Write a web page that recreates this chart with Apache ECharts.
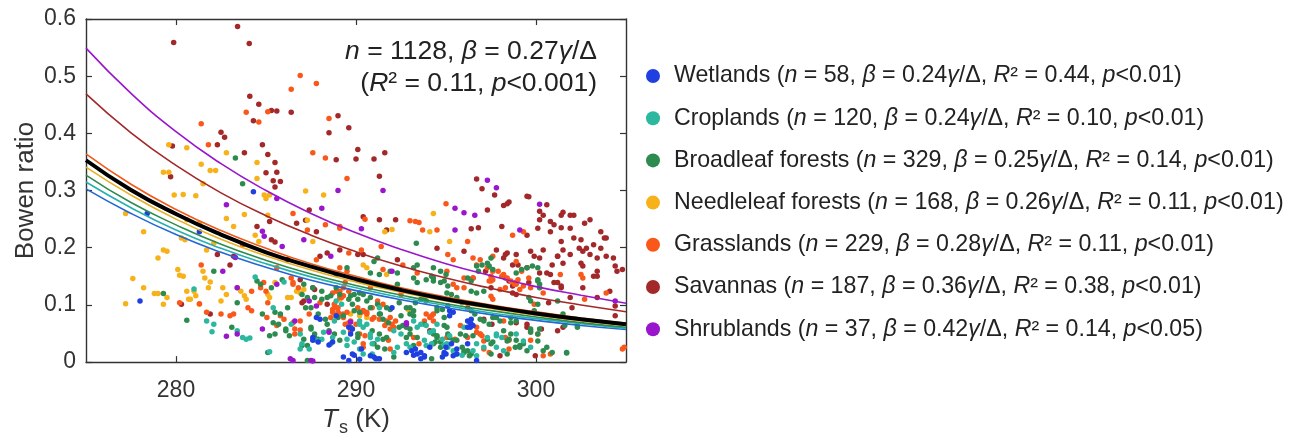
<!DOCTYPE html>
<html>
<head>
<meta charset="utf-8">
<script src="https://cdn.jsdelivr.net/npm/echarts@6/dist/echarts.min.js"></script>
<style>html,body{margin:0;padding:0;background:#fff}#c{width:1299px;height:442px}</style>
</head>
<body>
<div id="c"></div>
<script>
// ---------- data ----------
const landTypes = ['Wetlands','Croplands','Broadleaf forests','Needleleaf forests','Grasslands','Savannas','Shrublands'];
const nCounts = [58,120,329,168,229,187,37];
const betaCoefs = ['0.24','0.24','0.25','0.26','0.28','0.36','0.42'];
const r2Vals = ['0.44','0.10','0.14','0.11','0.11','0.38','0.14'];
const pVals = ['0.01','0.01','0.01','0.01','0.01','0.01','0.05'];
const xTicks = [280,290,300];
const yTicks = [0,0.1,0.2,0.3,0.4,0.5,0.6];

// fitted curves at these Ts values
const curveT = [275,277.5,280,282.5,285,287.5,290,292.5,295,297.5,300,302.5,305];
const curveWetlands   = [0.303,0.260,0.223,0.192,0.166,0.143,0.125,0.109,0.095,0.083,0.073,0.064,0.057];
const curveCroplands  = [0.315,0.270,0.231,0.199,0.172,0.149,0.130,0.113,0.099,0.086,0.076,0.067,0.059];
const curveBroadleaf  = [0.327,0.279,0.240,0.206,0.178,0.154,0.134,0.117,0.102,0.090,0.079,0.069,0.061];
const curveNeedleleaf = [0.341,0.292,0.250,0.215,0.186,0.161,0.140,0.122,0.107,0.094,0.082,0.072,0.064];
const curveGrasslands = [0.364,0.311,0.267,0.230,0.199,0.172,0.150,0.130,0.114,0.100,0.088,0.077,0.068];
const curveSavannas   = [0.469,0.401,0.344,0.296,0.256,0.222,0.193,0.168,0.147,0.129,0.113,0.100,0.088];
const curveShrublands = [0.549,0.470,0.403,0.347,0.300,0.260,0.226,0.197,0.172,0.151,0.132,0.117,0.103];
const curveAll        = [0.353,0.301,0.259,0.223,0.192,0.167,0.145,0.126,0.110,0.097,0.085,0.075,0.066];

// observations [Ts (K), Bowen ratio]
const wetlandsPts = [[278.0,0.107],[278.4,0.260],[281.3,0.228],[284.3,0.298],[287.6,0.038],[287.8,0.078],[288.0,0.075],[288.7,0.035],[288.9,0.081],[289.3,0.009],[289.6,0.003],[289.9,0.012],[289.6,0.061],[289.8,0.058],[289.7,0.049],[290.2,0.005],[290.3,0.023],[290.8,0.011],[291.1,0.006],[291.0,0.009],[291.3,0.006],[292.8,0.017],[293.1,0.020],[293.4,0.014],[293.3,0.023],[293.2,0.012],[293.6,0.017],[293.8,0.009],[293.6,0.006],[294.1,0.026],[294.8,0.009],[295.0,0.014],[295.0,0.026],[295.1,0.098],[295.2,0.090],[295.4,0.087],[295.2,0.081],[296.2,0.072],[296.4,0.075],[296.35,0.061],[296.4,0.066],[295.3,0.032],[295.6,0.023],[295.4,0.011],[295.6,0.014],[296.2,0.032],[296.7,0.003],[288.5,0.030],[292.0,0.095],[287.6,0.043],[287.9,0.035],[289.8,0.014],[293.8,0.011],[296.35,0.069],[296.5,0.064],[296.2,0.061],[294.9,0.017]];
const croplandsPts = [[281.7,0.072],[282.1,0.066],[282.0,0.053],[283.4,0.055],[283.7,0.043],[283.9,0.040],[284.1,0.042],[285.2,0.018],[284.4,0.149],[285.4,0.095],[286.4,0.066],[286.9,0.049],[287.0,0.032],[287.8,0.038],[288.1,0.040],[288.6,0.032],[289.5,0.040],[289.9,0.035],[286.9,0.023],[287.4,0.023],[288.2,0.052],[288.7,0.043],[289.3,0.052],[288.9,0.107],[289.2,0.101],[288.8,0.072],[290.2,0.072],[290.6,0.066],[290.8,0.049],[291.2,0.040],[290.2,0.066],[290.4,0.061],[290.8,0.043],[290.9,0.032],[292.1,0.055],[292.5,0.049],[292.1,0.017],[292.3,0.026],[292.8,0.032],[293.0,0.026],[293.8,0.038],[293.9,0.029],[293.9,0.064],[294.1,0.052],[294.8,0.040],[295.05,0.032],[294.9,0.030],[295.1,0.026],[295.4,0.020],[295.6,0.014],[295.9,0.012],[296.7,0.032],[297.1,0.026],[297.8,0.026],[298.2,0.020],[298.9,0.049],[291.3,0.095],[293.2,0.072],[293.6,0.066],[294.5,0.066],[296.0,0.061],[297.3,0.043],[299.7,0.026],[296.5,0.020],[296.7,0.011],[297.8,0.049],[298.1,0.043],[299.3,0.037],[281.0,0.128],[286.0,0.140],[293.4,0.061],[294.3,0.055],[289.5,0.029],[294.2,0.032],[290.2,0.023],[290.4,0.014],[290.9,0.014],[291.2,0.006],[295.2,0.046],[297.8,0.046]];
const broadleafPts = [[279.3,0.120],[280.6,0.073],[282.1,0.159],[283.1,0.061],[283.3,0.357],[283.7,0.312],[283.4,0.104],[284.5,0.142],[284.7,0.136],[285.3,0.130],[284.8,0.084],[286.2,0.095],[286.1,0.055],[287.0,0.118],[287.5,0.061],[287.7,0.113],[288.3,0.075],[288.5,0.055],[288.8,0.049],[288.9,0.130],[289.1,0.118],[289.9,0.118],[290.1,0.110],[290.1,0.049],[285.9,0.144],[287.1,0.136],[287.6,0.130],[287.5,0.095],[288.1,0.124],[288.4,0.113],[289.6,0.110],[289.8,0.101],[285.5,0.087],[285.8,0.084],[285.4,0.069],[285.7,0.066],[286.1,0.058],[285.5,0.049],[285.2,0.046],[286.3,0.046],[287.1,0.040],[287.3,0.029],[285.1,0.017],[287.7,0.043],[287.9,0.040],[289.0,0.078],[289.3,0.081],[290.2,0.087],[290.8,0.095],[291.3,0.049],[291.7,0.043],[291.2,0.026],[291.6,0.023],[292.6,0.064],[292.8,0.061],[293.0,0.084],[291.7,0.095],[293.0,0.095],[293.3,0.104],[293.8,0.113],[293.9,0.107],[294.5,0.095],[294.8,0.092],[294.9,0.078],[294.3,0.049],[294.4,0.035],[294.9,0.014],[290.8,0.156],[291.3,0.153],[293.2,0.147],[293.4,0.139],[294.2,0.150],[294.3,0.142],[294.7,0.139],[295.0,0.153],[293.35,0.208],[296.7,0.168],[297.0,0.170],[297.3,0.173],[297.5,0.182],[298.9,0.156],[299.2,0.162],[299.5,0.165],[299.8,0.168],[293.9,0.144],[294.3,0.147],[293.2,0.165],[293.4,0.170],[291.9,0.159],[292.3,0.156],[288.9,0.153],[289.5,0.165],[290.4,0.118],[290.8,0.113],[292.4,0.104],[292.8,0.095],[293.2,0.090],[293.6,0.110],[295.6,0.113],[295.9,0.104],[296.4,0.090],[296.6,0.084],[297.1,0.072],[297.4,0.066],[295.1,0.049],[295.2,0.043],[295.4,0.038],[294.3,0.032],[294.7,0.026],[298.2,0.055],[298.6,0.049],[298.9,0.038],[299.3,0.032],[299.7,0.055],[300.1,0.049],[300.4,0.020],[300.9,0.017],[301.7,0.016],[301.5,0.084],[302.3,0.064],[298.6,0.078],[298.9,0.072],[291.3,0.084],[291.5,0.075],[291.8,0.069],[289.7,0.061],[291.0,0.032],[293.0,0.049],[293.4,0.043],[296.0,0.020],[296.4,0.014],[299.5,0.020],[296.2,0.147],[296.4,0.142],[292.3,0.136],[300.1,0.142],[300.2,0.136],[301.2,0.107],[299.9,0.090],[291.0,0.176],[291.2,0.182],[296.8,0.159],[295.05,0.121],[295.3,0.118],[296.4,0.124],[296.7,0.121],[297.1,0.124],[299.6,0.113],[299.7,0.107],[294.9,0.064],[295.05,0.061],[297.8,0.078],[298.0,0.072],[299.7,0.058],[301.6,0.064],[302.3,0.061],[295.8,0.049],[296.1,0.046],[297.3,0.040],[297.6,0.035],[298.5,0.040],[298.85,0.026],[299.1,0.029],[295.9,0.026],[296.2,0.020],[298.4,0.014],[301.7,0.017],[287.3,0.113],[288.1,0.110],[288.6,0.116],[289.7,0.116],[290.2,0.121],[290.6,0.107],[291.2,0.101],[287.2,0.095],[287.9,0.084],[289.9,0.090],[291.35,0.084],[291.9,0.092],[292.5,0.081],[293.2,0.081],[294.5,0.090],[288.4,0.066],[287.5,0.058],[287.7,0.049],[290.9,0.055],[292.4,0.061],[293.0,0.058],[293.8,0.066],[289.1,0.038],[290.1,0.043],[291.5,0.040],[292.8,0.043],[293.2,0.029],[294.5,0.043],[287.0,0.029],[292.1,0.009],[287.3,0.003],[294.3,0.165],[294.7,0.159],[297.4,0.168],[297.6,0.162],[300.1,0.165],[294.9,0.142],[295.1,0.133],[300.1,0.144],[300.2,0.130],[300.1,0.101],[296.9,0.075],[297.6,0.078],[298.6,0.069],[299.7,0.052],[300.2,0.058],[294.5,0.046],[294.7,0.035],[295.6,0.038],[296.5,0.046],[297.5,0.032],[298.4,0.037],[299.1,0.026],[300.1,0.037],[300.6,0.026],[296.0,0.017],[296.3,0.011],[297.5,0.014],[294.2,0.006]];
const needleleafPts = [[277.2,0.260],[278.2,0.228],[279.9,0.292],[280.4,0.293],[281.1,0.291],[279.3,0.196],[279.5,0.194],[279.0,0.182],[280.3,0.217],[280.5,0.214],[277.6,0.146],[278.2,0.130],[277.2,0.102],[278.8,0.120],[279.0,0.120],[279.3,0.101],[279.5,0.113],[280.1,0.162],[280.2,0.152],[280.4,0.150],[280.6,0.124],[280.7,0.110],[280.8,0.110],[281.0,0.124],[281.1,0.116],[281.3,0.101],[281.5,0.159],[281.6,0.147],[281.9,0.140],[281.8,0.130],[281.3,0.243],[280.6,0.249],[281.7,0.196],[282.1,0.208],[282.6,0.130],[282.5,0.107],[282.8,0.118],[282.8,0.251],[283.2,0.237],[283.8,0.258],[284.4,0.222],[284.6,0.211],[285.1,0.257],[284.9,0.292],[285.0,0.286],[287.3,0.248],[287.6,0.211],[283.4,0.130],[283.6,0.124],[283.8,0.116],[283.9,0.110],[285.1,0.118],[285.2,0.113],[286.4,0.113],[279.6,0.380],[280.6,0.375],[282.8,0.366],[281.4,0.346],[279.3,0.332],[279.6,0.332],[281.9,0.335],[282.2,0.335],[281.5,0.312],[284.5,0.349],[284.5,0.321],[287.2,0.299],[288.2,0.292],[285.2,0.292],[285.5,0.139],[286.7,0.124],[286.9,0.121],[286.2,0.113],[289.1,0.110],[291.7,0.153],[294.3,0.260],[294.1,0.228],[295.2,0.211],[291.6,0.228],[292.0,0.232],[290.4,0.170],[290.6,0.165],[288.8,0.101],[289.7,0.084],[290.6,0.078],[287.1,0.127],[291.35,0.098],[288.85,0.081],[290.2,0.081],[292.9,0.092]];
const grasslandsPts = [[286.9,0.501],[287.8,0.487],[286.4,0.477],[283.9,0.437],[285.1,0.438],[284.6,0.420],[281.4,0.417],[281.8,0.380],[287.6,0.366],[288.3,0.357],[288.5,0.426],[289.5,0.321],[280.2,0.104],[281.3,0.102],[281.4,0.170],[281.7,0.087],[282.5,0.084],[283.2,0.084],[284.2,0.124],[284.0,0.095],[284.2,0.090],[283.7,0.205],[286.5,0.260],[287.3,0.231],[288.3,0.240],[289.1,0.237],[287.8,0.179],[289.6,0.191],[289.1,0.165],[289.5,0.159],[285.6,0.165],[283.0,0.081],[284.7,0.130],[285.0,0.124],[285.1,0.104],[285.8,0.081],[286.0,0.075],[285.6,0.064],[286.5,0.136],[286.8,0.130],[286.6,0.049],[287.4,0.084],[288.0,0.104],[288.8,0.101],[289.0,0.095],[289.3,0.084],[289.4,0.139],[289.7,0.072],[290.0,0.066],[284.87,0.139],[286.4,0.147],[286.5,0.139],[288.7,0.121],[289.1,0.124],[289.2,0.113],[285.05,0.078],[286.5,0.069],[286.9,0.072],[286.6,0.058],[286.9,0.056],[288.6,0.078],[288.7,0.092],[289.0,0.087],[289.5,0.087],[289.6,0.069],[290.4,0.090],[290.6,0.087],[291.0,0.078],[291.3,0.075],[290.2,0.049],[290.5,0.046],[290.4,0.032],[291.7,0.072],[292.0,0.066],[292.1,0.061],[293.8,0.072],[295.0,0.277],[290.5,0.250],[293.0,0.247],[293.3,0.246],[293.5,0.244],[293.7,0.231],[294.5,0.231],[298.7,0.222],[299.3,0.228],[289.1,0.234],[290.3,0.196],[291.4,0.202],[295.1,0.188],[295.4,0.179],[296.2,0.211],[296.5,0.182],[296.7,0.170],[297.3,0.165],[297.6,0.159],[297.9,0.159],[298.2,0.153],[298.4,0.147],[298.6,0.142],[298.8,0.136],[298.9,0.176],[299.2,0.159],[299.6,0.147],[299.7,0.130],[300.4,0.121],[292.6,0.170],[293.4,0.156],[289.3,0.130],[289.6,0.124],[290.8,0.130],[291.2,0.107],[291.5,0.101],[292.5,0.118],[288.8,0.095],[289.1,0.084],[289.4,0.066],[289.7,0.055],[290.1,0.095],[290.3,0.087],[291.9,0.078],[292.2,0.072],[294.1,0.078],[294.3,0.072],[296.7,0.061],[296.9,0.049],[298.2,0.072],[298.3,0.043],[298.5,0.038],[299.7,0.038],[300.1,0.049],[300.8,0.014],[293.2,0.043],[293.5,0.032],[290.4,0.026],[295.6,0.130],[304.9,0.026],[297.4,0.142],[299.9,0.101],[291.5,0.162],[295.05,0.159],[295.4,0.136],[296.5,0.147],[297.5,0.150],[297.6,0.144],[298.0,0.127],[298.3,0.130],[298.85,0.139],[299.0,0.144],[299.3,0.133],[301.35,0.153],[302.5,0.153],[302.6,0.147],[303.9,0.121],[302.7,0.110],[295.8,0.064],[295.05,0.043],[295.5,0.040],[296.7,0.052],[297.0,0.046],[297.1,0.023],[297.4,0.017],[300.4,0.011],[304.8,0.023],[288.9,0.124],[289.1,0.113],[289.3,0.116],[290.9,0.095],[288.7,0.087],[289.3,0.078],[290.4,0.090],[290.6,0.084],[290.9,0.075],[293.9,0.084],[294.2,0.081],[291.6,0.064],[291.9,0.058],[291.8,0.038],[291.9,0.023],[296.9,0.179],[297.6,0.185],[296.0,0.147],[296.0,0.130],[297.5,0.142],[298.1,0.150],[298.9,0.136],[299.1,0.127],[297.5,0.115],[297.6,0.110],[294.3,0.084],[296.2,0.043],[296.9,0.049],[297.1,0.037],[298.5,0.023]];
const savannasPts = [[279.87,0.559],[283.42,0.587],[284.07,0.557],[284.1,0.465],[284.6,0.451],[285.3,0.440],[285.6,0.439],[286.4,0.437],[284.3,0.422],[282.5,0.402],[282.7,0.393],[282.3,0.380],[279.8,0.378],[284.8,0.380],[283.8,0.366],[285.1,0.363],[288.9,0.354],[288.5,0.401],[289.0,0.431],[289.6,0.410],[285.5,0.349],[285.0,0.331],[279.7,0.324],[285.6,0.332],[285.8,0.316],[285.4,0.317],[285.5,0.306],[290.0,0.355],[290.1,0.372],[291.0,0.355],[291.6,0.366],[291.3,0.325],[296.7,0.320],[297.0,0.303],[297.7,0.292],[299.5,0.290],[282.3,0.188],[283.0,0.170],[283.2,0.185],[284.5,0.237],[285.3,0.214],[285.5,0.210],[285.2,0.246],[286.7,0.243],[287.4,0.266],[287.2,0.248],[287.8,0.228],[288.0,0.185],[288.4,0.191],[290.1,0.188],[286.2,0.179],[280.3,0.101],[281.9,0.084],[286.9,0.144],[287.6,0.130],[287.7,0.127],[288.4,0.101],[287.0,0.104],[297.3,0.266],[298.2,0.274],[298.4,0.277],[298.5,0.280],[299.6,0.289],[300.6,0.275],[300.2,0.264],[300.4,0.257],[300.2,0.249],[300.8,0.246],[301.0,0.240],[301.4,0.257],[301.9,0.257],[302.1,0.257],[290.4,0.254],[291.3,0.249],[292.2,0.249],[296.4,0.233],[296.8,0.235],[298.1,0.237],[301.5,0.262],[301.4,0.235],[301.9,0.234],[302.1,0.217],[302.5,0.214],[302.4,0.199],[302.6,0.194],[302.8,0.199],[303.0,0.188],[303.2,0.205],[303.4,0.182],[303.6,0.199],[303.8,0.217],[303.9,0.217],[303.9,0.185],[304.3,0.182],[304.4,0.168],[304.5,0.159],[303.4,0.159],[303.2,0.150],[302.6,0.168],[302.5,0.173],[301.9,0.188],[301.5,0.196],[301.4,0.211],[301.2,0.185],[300.9,0.170],[301.5,0.173],[300.6,0.156],[300.4,0.196],[300.1,0.234],[299.5,0.222],[299.7,0.194],[299.9,0.185],[298.9,0.188],[298.7,0.170],[298.4,0.191],[300.8,0.228],[301.4,0.130],[301.9,0.113],[302.6,0.130],[301.5,0.061],[303.4,0.113],[304.4,0.098],[302.7,0.243],[303.0,0.249],[303.6,0.228],[292.3,0.179],[294.5,0.199],[296.0,0.194],[297.8,0.196],[298.2,0.182],[296.5,0.147],[297.5,0.130],[298.9,0.118],[290.4,0.188],[291.7,0.231],[289.1,0.196],[294.1,0.055],[299.5,0.061],[296.2,0.095],[297.2,0.159],[298.3,0.147],[298.7,0.121],[300.2,0.156],[301.0,0.139],[301.2,0.139],[300.7,0.104],[302.0,0.095],[303.4,0.150],[304.1,0.124],[304.4,0.081],[297.1,0.075],[298.9,0.069],[300.3,0.058],[298.0,0.011],[299.96,0.011],[304.8,0.162],[287.1,0.107],[298.3,0.188],[299.0,0.170],[299.5,0.165],[300.2,0.182],[301.2,0.185],[298.5,0.142],[298.7,0.133],[299.6,0.139],[300.8,0.153],[301.4,0.133],[297.55,0.066],[299.5,0.066],[301.2,0.055]];
const shrublandsPts = [[289.0,0.300],[291.5,0.300],[297.3,0.318],[297.8,0.305],[300.2,0.276],[295.5,0.269],[296.0,0.261],[296.6,0.257],[290.3,0.233],[295.5,0.231],[299.1,0.231],[304.4,0.107],[292.8,0.069],[282.6,0.159],[282.8,0.275],[283.3,0.183],[284.8,0.229],[284.9,0.220],[285.6,0.286],[287.1,0.214],[288.1,0.269],[288.6,0.185],[285.9,0.202],[285.6,0.136],[286.6,0.072],[287.8,0.098],[283.4,0.130],[283.4,0.049],[282.8,0.045],[286.35,0.006],[286.5,0.003],[287.5,0.003],[287.6,0.002],[287.4,0.107],[288.5,0.052],[284.8,0.058],[292.8,0.066],[292.0,0.159],[289.7,0.070]];

// ---------- styling ----------
const FONT = 'Liberation Sans, Arial, Helvetica, sans-serif';
const pointColors = ['#1f3fe0','#2bb89e','#2e8b4f','#f7b21a','#fa581a','#a3282a','#9a16cc'];
const lineColors  = ['#2466d6','#27b0b0','#2e8b4f','#e8b020','#f05a1a','#a3282a','#9a16cc'];
const pts = [wetlandsPts,croplandsPts,broadleafPts,needleleafPts,grasslandsPts,savannasPts,shrublandsPts];
const curves = [curveWetlands,curveCroplands,curveBroadleaf,curveNeedleleaf,curveGrasslands,curveSavannas,curveShrublands];

const chart = echarts.init(document.getElementById('c'), null, {renderer:'canvas'});

const series = [];
const drawOrder = [5,3,4,2,1,0,6];
drawOrder.forEach(i => {
  series.push({
    name: landTypes[i], type: 'scatter', data: pts[i],
    symbol: 'circle', symbolSize: 5.5, itemStyle: {color: pointColors[i], opacity: 1},
    z: 2, silent: true
  });
});
for (let i = 0; i < 7; i++) {
  series.push({
    name: 'fit ' + landTypes[i], type: 'line', data: curveT.map((t, k) => [t, curves[i][k]]),
    smooth: true, showSymbol: false, silent: true, z: 3,
    lineStyle: {color: lineColors[i], width: 1.6}
  });
}
series.push({
  name: 'fit all', type: 'line', data: curveT.map((t, k) => [t, curveAll[k]]),
  smooth: true, showSymbol: false, silent: true, z: 4,
  lineStyle: {color: '#000', width: 4}
});

const axisCol = '#333';
const baseAxis = {
  axisLine: {show: true, onZero: false, lineStyle: {color: axisCol, width: 1.4}},
  axisTick: {show: true, inside: true, length: 6, lineStyle: {color: axisCol, width: 1.2}},
  splitLine: {show: false}
};

const LF = 23.2;
const richLegend = {
  t: {fontSize: LF, fontFamily: FONT, color: '#222'},
  i: {fontSize: LF, fontFamily: FONT, color: '#222', fontStyle: 'italic'}
};
const AF = 26.5;

chart.setOption({
  animation: false,
  backgroundColor: '#fff',
  grid: {left: 86, right: 673, top: 19, bottom: 77, containLabel: false},
  xAxis: [
    Object.assign({}, baseAxis, {
      type: 'value', min: 275, max: 305, splitNumber: 3, position: 'bottom',
      axisTick: Object.assign({}, baseAxis.axisTick, {customValues: xTicks}),
      axisLabel: {customValues: xTicks, fontSize: 23, color: '#333', fontFamily: FONT, margin: 17},
      name: '{i|T}{s|s}{t| (K)}', nameLocation: 'middle', nameGap: 40,
      nameTextStyle: {rich: {
        i: {fontSize: 26, fontStyle: 'italic', fontFamily: FONT, color: '#333'},
        s: {fontSize: 18, fontFamily: FONT, color: '#333', padding: [16, 0, 0, 1]},
        t: {fontSize: 26, fontFamily: FONT, color: '#333'}
      }}
    }),
    Object.assign({}, baseAxis, {
      type: 'value', min: 275, max: 305, splitNumber: 3, position: 'top',
      axisTick: Object.assign({}, baseAxis.axisTick, {customValues: xTicks}),
      axisLabel: {show: false}
    })
  ],
  yAxis: [
    Object.assign({}, baseAxis, {
      type: 'value', min: 0, max: 0.6, interval: 0.1, position: 'left',
      axisTick: Object.assign({}, baseAxis.axisTick, {customValues: yTicks}),
      axisLabel: {customValues: yTicks, fontSize: 23, color: '#333', fontFamily: FONT, margin: 10},
      name: 'Bowen ratio', nameLocation: 'middle', nameGap: 47, nameRotate: 90,
      nameTextStyle: {fontSize: 26, fontFamily: FONT, color: '#333'}
    }),
    Object.assign({}, baseAxis, {
      type: 'value', min: 0, max: 0.6, interval: 0.1, position: 'right',
      axisTick: Object.assign({}, baseAxis.axisTick, {customValues: yTicks}),
      axisLabel: {show: false}
    })
  ],
  legend: {
    data: landTypes, orient: 'vertical', left: 641, top: 58,
    icon: 'circle', itemWidth: 32, itemHeight: 14, itemGap: 16.2,
    selectedMode: false,
    textStyle: {fontSize: LF, fontFamily: FONT, color: '#222', lineHeight: 26, rich: richLegend},
    formatter: function (name) {
      const i = landTypes.indexOf(name);
      return '{t|' + name + ' (}{i|n}{t| = ' + nCounts[i] + ', }{i|β}{t| = ' + betaCoefs[i] +
             '}{i|γ}{t|/Δ, }{i|R}{t|² = ' + r2Vals[i] + ', }{i|p}{t|<' + pVals[i] + ')}';
    }
  },
  graphic: [
    {type: 'text', x: 597, y: 52, z: 10, style: {
      text: '{i|n}{t| = 1128, }{i|β}{t| = 0.27}{i|γ}{t|/Δ}', align: 'right', verticalAlign: 'middle',
      rich: {t: {fontSize: AF, fontFamily: FONT, fill: '#222'}, i: {fontSize: AF, fontFamily: FONT, fill: '#222', fontStyle: 'italic'}}
    }},
    {type: 'text', x: 597, y: 84, z: 10, style: {
      text: '{t|(}{i|R}{t|² = 0.11, }{i|p}{t|<0.001)}', align: 'right', verticalAlign: 'middle',
      rich: {t: {fontSize: AF, fontFamily: FONT, fill: '#222'}, i: {fontSize: AF, fontFamily: FONT, fill: '#222', fontStyle: 'italic'}}
    }}
  ],
  series: series
});
</script>
</body>
</html>
